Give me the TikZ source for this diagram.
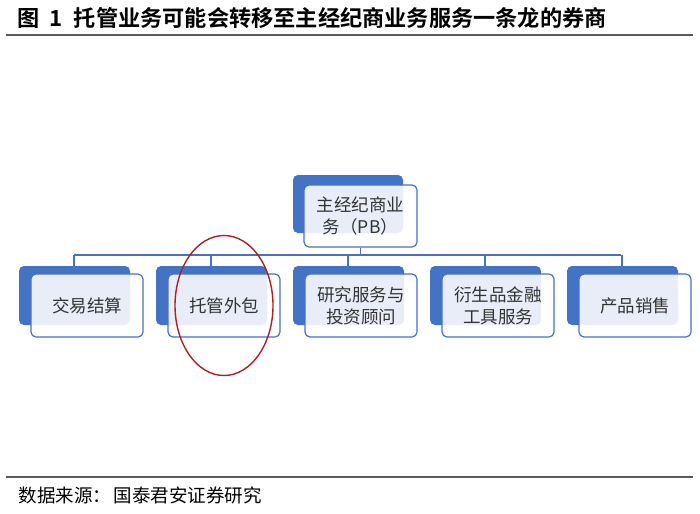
\documentclass[tikz,border=0pt]{standalone}
\usepackage{fontspec}
\setmainfont{Noto Sans CJK SC}
\newfontfamily\cjk{Noto Sans CJK SC}
\newfontfamily\cjkb{Noto Sans CJK SC Bold}
\begin{document}
\begin{tikzpicture}[x=1pt,y=-1pt,
  backbox/.style={fill=pbblue,rounded corners=5pt},
  frontbox/.style={draw=pbblue,line width=1.2pt,fill=white,fill opacity=0.88,text opacity=1,rounded corners=5pt},
  lbl/.style={font=\cjk\fontsize{17.5}{22}\selectfont,text=black!80,align=center},
  conn/.style={draw=pbblue,line width=1.3pt},
  rule/.style={draw=black!65,line width=1.6pt}]
\definecolor{pbblue}{HTML}{4472C4}
\useasboundingbox (0,0) rectangle (700,513);
\fill[white] (0,0) rectangle (700,513);
% title
\node[anchor=west,font=\cjkb\fontsize{22.2}{24}\selectfont] (title) at (14,18) {图\hspace{0.45em}1\hspace{0.5em}托管业务可能会转移至主经纪商业务服务一条龙的券商};
\draw[rule] (6,35) -- (693,35);
\draw[rule] (6,477) -- (693,477);
\node[anchor=west,font=\cjk\fontsize{18.5}{20}\selectfont] (src) at (15,495) {数据来源：\hspace{0.15em}国泰君安证券研究};
% top box
\fill[backbox] (293,175) rectangle (403,233);
\node[frontbox,minimum width=113pt,minimum height=62pt,lbl] (pb) at (360.5,216) {主经纪商业\\务（PB）};
% connectors
\coordinate (hl) at (74,255);
\coordinate (hr) at (621,255);
\draw[conn] (pb.south) -- (pb.south |- hl);
\draw[conn] (hl) -- (hr);
\foreach \i/\t in {0/交易结算,1/托管外包,2/研究服务与\\投资顾问,3/衍生品金融\\工具服务,4/产品销售}{
  \pgfmathsetmacro{\bx}{19+137*\i}
  \fill[backbox] (\bx,266) rectangle ++(111,59);
  \coordinate (c\i) at (\bx+55,255);
  \coordinate (t\i) at (\bx+55,266);
  \draw[conn] (c\i) -- (t\i);
  \node[frontbox,minimum width=112pt,minimum height=63pt,lbl] (b\i) at (\bx+68,305.5) {\t};
}
% red ellipse
\draw[draw={rgb,255:red,178;green,30;blue,36},line width=1.4pt] (b1.center) ellipse [x radius=49, y radius=70];
\end{tikzpicture}
\end{document}
